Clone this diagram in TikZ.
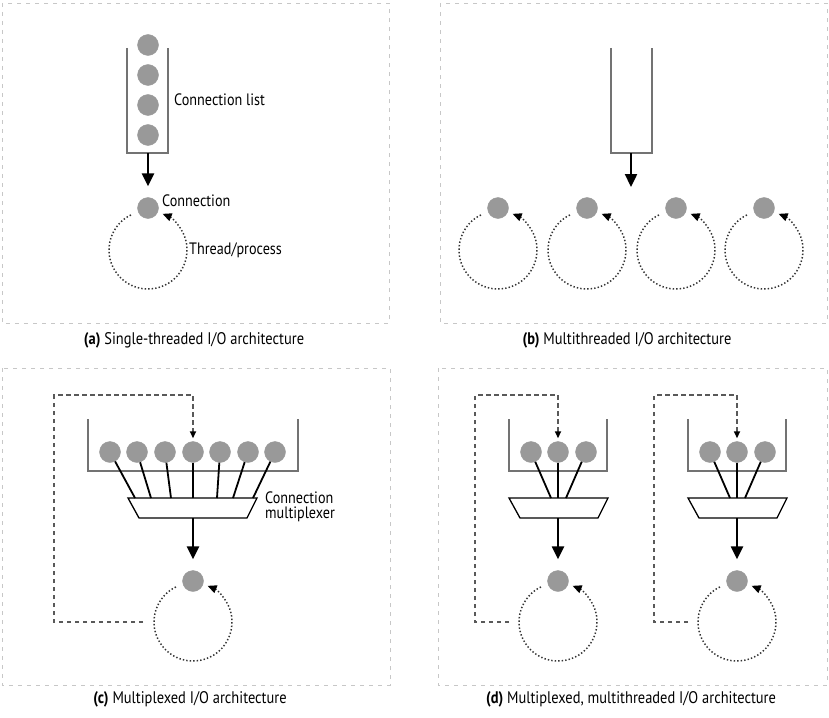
\documentclass[tikz,border=0pt]{standalone}
\usepackage{fontspec}
\setmainfont{PT Sans}[FakeStretch=0.86]
\usetikzlibrary{arrows.meta,calc}
\tikzset{
  frame/.style={draw=black!22, line width=0.9pt, dash pattern=on 4pt off 5pt},
  conn/.style={circle, fill=black!40, draw=black!40, minimum size=21pt, inner sep=0pt},
  tube/.style={draw=black!55, line width=1.4pt},
  flow/.style={-{Triangle[length=13pt,width=12pt]}, line width=2.4pt},
  wire/.style={line width=1.8pt},
  mux/.style={line width=1.3pt},
  loop/.style={draw=black!80, line width=1.5pt, dash pattern=on 1.4pt off 2.1pt, -{Triangle[length=9pt,width=8pt,color=black]}},
  feedback/.style={draw=black!65, line width=1.6pt, dash pattern=on 4.5pt off 3.5pt, -{Triangle[length=7pt,width=6pt,color=black]}},
  caption/.style={font=\fontsize{16.8}{18}\selectfont},
  lbl/.style={font=\fontsize{16.5}{17}\selectfont, anchor=west, align=left, inner sep=0pt},
}
\begin{document}
\begin{tikzpicture}[x=1pt,y=1pt]
\useasboundingbox (0,0) rectangle (829,-717);
\draw[frame] (2,-3) rectangle (389,-323);
\draw[frame] (440,-3) rectangle (827,-323);
\draw[frame] (2,-368) rectangle (390,-685);
\draw[frame] (438,-368) rectangle (827,-685);
\node[caption] (capA) at (194,-340) {\textbf{(a)} Single-threaded I/O architecture};
\node[caption] (capB) at (627,-340) {\textbf{(b)} Multithreaded I/O architecture};
\node[caption] (capC) at (190,-699) {\textbf{(c)} Multiplexed I/O architecture};
\node[caption] (capD) at (631,-699) {\textbf{(d)} Multiplexed, multithreaded I/O architecture};

\draw[tube] (127,-48) |- (168,-153) -- (168,-48);
\coordinate (listA) at (148,-153);
\foreach \y/\n in {45/1,75/2,105/3,135/4}
  \node[conn] (a\n) at (148,-\y) {};
\node[conn] (connA) at (148,-208) {};
\coordinate (loopA) at (148,-250);
\draw[flow] (listA) -- ([yshift=11pt]connA.north);
\draw[loop] ($(loopA)+(116:39pt)$) arc[start angle=116, end angle=428, radius=39pt];
\node[lbl] (listlbl) at (174,-100) {Connection list};
\node[lbl] (connlbl) at (162,-201) {Connection};
\node[lbl] (threadlbl) at (189,-250) {Thread/process};

\draw[tube] (611,-48) |- (652,-153) -- (652,-48);
\coordinate (listB) at (631,-153);
\draw[flow] (listB) -- (631,-187);
\foreach \x/\n in {498/1,587/2,676/3,764/4}{
  \node[conn] (b\n) at (\x,-208) {};
  \coordinate (loopB\n) at (\x,-250);
  \draw[loop] ($(loopB\n)+(116:39pt)$) arc[start angle=116, end angle=428, radius=39pt];
}

\draw[tube] (88,-419) |- (298,-471) -- (298,-419);
\draw[mux] (128,-498) -- (257,-498) -- (247,-518) -- (139,-518) -- cycle;
\coordinate (muxC) at (193,-518);
\foreach \x/\t/\n in {110/135/1,137/151/2,165/171/3,193/193/4,220/217/5,248/233/6,275/253/7}{
  \node[conn] (c\n) at (\x,-452) {};
  \coordinate (inC\n) at (\t,-498);
  \draw[wire] (c\n) -- (inC\n);
}
\node[lbl] (muxlbl) at (265,-507) {Connection\\[-2pt]multiplexer};
\node[conn] (connC) at (193,-581) {};
\coordinate (loopC) at (193,-622);
\draw[flow] (muxC) -- ([yshift=11pt]connC.north);
\draw[loop] ($(loopC)+(116:39pt)$) arc[start angle=116, end angle=428, radius=39pt];
\draw[feedback] ($(loopC)+(-50,0)$) -| (54,-395) -| ([yshift=3pt]c4.north);

\foreach \dx/\n in {0/1,179/2}{
  \draw[tube] (509+\dx,-419) |- (607+\dx,-471) -- (607+\dx,-419);
  \draw[mux] (509+\dx,-498) -- (608+\dx,-498) -- (598+\dx,-518) -- (520+\dx,-518) -- cycle;
  \coordinate (muxD\n) at (558+\dx,-518);
  \foreach \x/\t/\m in {531/551/1,558/558/2,586/566/3}{
    \node[conn] (d\n\m) at (\x+\dx,-452) {};
    \coordinate (inD\n\m) at (\t+\dx,-498);
    \draw[wire] (d\n\m) -- (inD\n\m);
  }
  \node[conn] (connD\n) at (558+\dx,-581) {};
  \coordinate (loopD\n) at (558+\dx,-622);
  \draw[flow] (muxD\n) -- ([yshift=11pt]connD\n.north);
  \draw[loop] ($(loopD\n)+(116:39pt)$) arc[start angle=116, end angle=428, radius=39pt];
  \draw[feedback] ($(loopD\n)+(-49,0)$) -| (475+\dx,-395) -| ([yshift=3pt]d\n2.north);
}
\end{tikzpicture}
\end{document}
